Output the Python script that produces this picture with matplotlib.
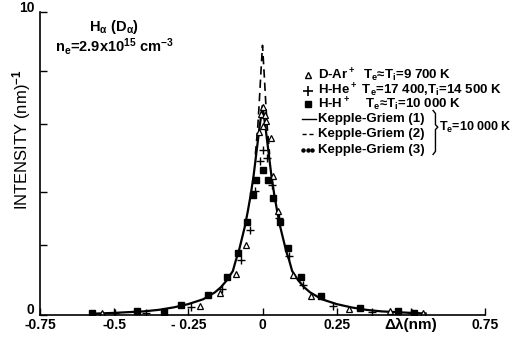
import numpy as np
import matplotlib
matplotlib.use("Agg")
import matplotlib.pyplot as plt
from matplotlib import font_manager
from matplotlib.transforms import offset_copy

installed = {f.name for f in font_manager.fontManager.ttflist}
narrow = 'Liberation Sans Narrow' if 'Liberation Sans Narrow' in installed else 'Liberation Sans'

plt.rcParams['font.family'] = [narrow, 'DejaVu Sans']
plt.rcParams['mathtext.fontset'] = 'custom'
plt.rcParams['mathtext.rm'] = narrow + ':bold'
plt.rcParams['mathtext.it'] = narrow + ':bold'
plt.rcParams['mathtext.bf'] = narrow + ':bold'
plt.rcParams['mathtext.default'] = 'rm'

# Kepple-Griem (1) profile, Te = 10 000 K
kg1_x = [-0.58, -0.5, -0.4, -0.35, -0.3, -0.25, -0.2, -0.16, -0.14, -0.12, -0.1, -0.09,
         -0.08, -0.07, -0.06, -0.05, -0.04, -0.03, -0.02, -0.01, 0.0,
         0.01, 0.02, 0.03, 0.04, 0.05, 0.06, 0.07, 0.08, 0.09, 0.1, 0.12, 0.14,
         0.16, 0.2, 0.25, 0.3, 0.35, 0.4, 0.5, 0.55]
kg1_y = [0.04, 0.07, 0.12, 0.17, 0.25, 0.36, 0.52, 0.75, 0.92, 1.15, 1.45, 1.8,
         2.1, 2.5, 2.9, 3.4, 3.95, 4.6, 5.4, 6.2, 6.9,
         6.2, 5.4, 4.6, 3.95, 3.4, 2.9, 2.5, 2.1, 1.8, 1.45, 1.15, 0.92,
         0.75, 0.52, 0.36, 0.25, 0.17, 0.12, 0.07, 0.05]

# Kepple-Griem (2) line core
kg2_x = [-0.024, -0.016, -0.011, -0.006, 0.0, 0.006, 0.011, 0.016, 0.024]
kg2_y = [5.3, 6.2, 7.0, 7.9, 8.9, 7.9, 7.0, 6.2, 5.3]

# D-Ar+  Te~Ti = 9700 K
dar_x = [-0.54, -0.212, -0.142, -0.088, -0.054, -0.012, -0.005, 0.0, 0.0, 0.01,
         0.012, 0.027, 0.036, 0.052, 0.104, 0.164, 0.29, 0.43, 0.54]
dar_y = [0.06, 0.3, 0.72, 1.35, 2.3, 6.05, 6.65, 6.87, 6.25, 6.6,
         6.4, 5.85, 4.6, 3.42, 1.32, 0.64, 0.19, 0.12, 0.08]

# H-He+  Te = 17 400 K, Ti = 14 500 K
hhe_x = [-0.497, -0.392, -0.241, -0.136, -0.072, -0.041, -0.024, -0.009, 0.002,
         0.014, 0.033, 0.057, 0.089, 0.137, 0.239, 0.37, 0.503]
hhe_y = [0.05, 0.05, 0.28, 0.86, 1.83, 2.82, 4.08, 5.08, 5.44,
         5.19, 4.3, 3.2, 1.95, 1.0, 0.31, 0.09, 0.07]

# H-H+  Te~Ti = 10 000 K
hh_x = [-0.575, -0.423, -0.331, -0.274, -0.184, -0.12, -0.082, -0.052, -0.033,
        -0.021, 0.002, 0.019, 0.036, 0.058, 0.085, 0.131, 0.198, 0.329, 0.458, 0.51]
hh_y = [0.08, 0.13, 0.11, 0.33, 0.66, 1.25, 2.06, 3.06, 3.97,
        4.44, 4.8, 4.47, 3.86, 3.06, 2.2, 1.25, 0.63, 0.22, 0.12, 0.06]

xticks = [-0.75, -0.5, -0.25, 0, 0.25, 0.5, 0.75]
xlabels = ['-0.75', '-0.5', '- 0.25', '0', '0.25', '', '0.75']
yticks = [0, 2.3, 4.05, 6.3, 8.05, 10]
ylabels = ['0', '', '', '', '', '10']

legend_rows = [
    'D-Ar$^+$  T$_e$≈T$_i$=9 700 K',
    'H-He$^+$ T$_e$=17 400,T$_i$=14 500 K',
    'H-H$^+$    T$_e$≈T$_i$=10 000 K',
    'Kepple-Griem (1)',
    'Kepple-Griem (2)',
    'Kepple-Griem (3)',
]

fig = plt.figure(figsize=(5.13, 3.37), dpi=100)
ax = fig.add_axes([40 / 513, 1 - 315 / 337, 445 / 513, 303 / 337])

ax.plot(kg1_x, kg1_y, color='black', lw=1.6)
ax.plot(kg2_x, kg2_y, color='black', lw=1.2, dashes=(5, 3))
ax.plot(dar_x, dar_y, ls='none', marker='^', ms=4.5, mfc='white', mec='black', mew=0.9)
ax.plot(hhe_x, hhe_y, ls='none', marker='+', ms=6, color='black', mew=1.0)
ax.plot(hh_x, hh_y, ls='none', marker='s', ms=3.8, color='black')

ax.set_xlim(-0.75, 0.75)
ax.set_ylim(0, 10)
ax.spines['top'].set_visible(False)
ax.spines['right'].set_visible(False)
ax.spines['left'].set_linewidth(1.2)
ax.spines['bottom'].set_linewidth(1.2)
ax.set_xticks(xticks)
ax.set_xticklabels(xlabels, fontsize=10, fontweight='bold')
ax.set_yticks(yticks)
ax.set_yticklabels(ylabels, fontsize=10, fontweight='bold')
ax.tick_params(axis='both', direction='in', length=5, width=1.0, pad=2)
ax.tick_params(axis='y', pad=4)
# y labels sit a little above their ticks
for lab in ax.get_yticklabels():
    lab.set_transform(offset_copy(lab.get_transform(), fig=fig, x=0, y=6, units='dots'))

ax.text(0.5, -0.08, 'Δλ(nm)', fontsize=11, fontweight='bold', ha='center', va='top',
        family=['Liberation Sans', 'DejaVu Sans'])

fig.text(22 / 513, 1 - 140 / 337, 'INTENSITY (nm)$^{-1}$', rotation=90,
         ha='center', va='center', fontsize=12, family=['Liberation Sans', 'DejaVu Sans'])

# upper left annotations
ax.text(-0.5, 9.5, 'H$_{α}$ (D$_{α}$)', fontsize=10.5, fontweight='bold', ha='center', va='center')
ax.text(-0.70, 8.87, 'n$_e$=2.9x10$^{15}$ cm$^{-3}$', fontsize=10.5, fontweight='bold',
        ha='left', va='center')

# legend
sym_x = 0.152
txt_x = 0.186
rows = [7.91, 7.4, 6.95, 6.46, 5.96, 5.46]
ax.plot([sym_x], [rows[0]], marker='^', ms=5, mfc='white', mec='black', mew=1.0)
ax.plot([sym_x], [rows[1]], marker='+', ms=7, color='black', mew=1.2)
ax.plot([sym_x], [rows[2]], marker='s', ms=5, color='black')
ax.plot([sym_x - 0.02, txt_x - 0.004], [rows[3]] * 2, color='black', lw=1.0)
ax.plot([sym_x - 0.02, txt_x - 0.004], [rows[4]] * 2, color='black', lw=1.0, dashes=(3, 2))
ax.plot([sym_x - 0.015, sym_x, sym_x + 0.015], [rows[5]] * 3, ls='none', marker='o',
        ms=2.2, color='black')
for label, yy in zip(legend_rows, rows):
    ax.text(txt_x, yy, label, fontsize=9.5, fontweight='bold', va='center')

# brace grouping the three Kepple-Griem entries
bx = [0.575, 0.583, 0.583, 0.591, 0.583, 0.583, 0.575]
by = [6.75, 6.65, 6.28, 6.2, 6.12, 5.4, 5.3]
ax.plot(bx, by, color='black', lw=1.0, clip_on=False)
ax.text(0.594, 6.2, 'T$_e$=10 000 K', fontsize=9, fontweight='bold', va='center')

fig.savefig('out.png', dpi=100)
